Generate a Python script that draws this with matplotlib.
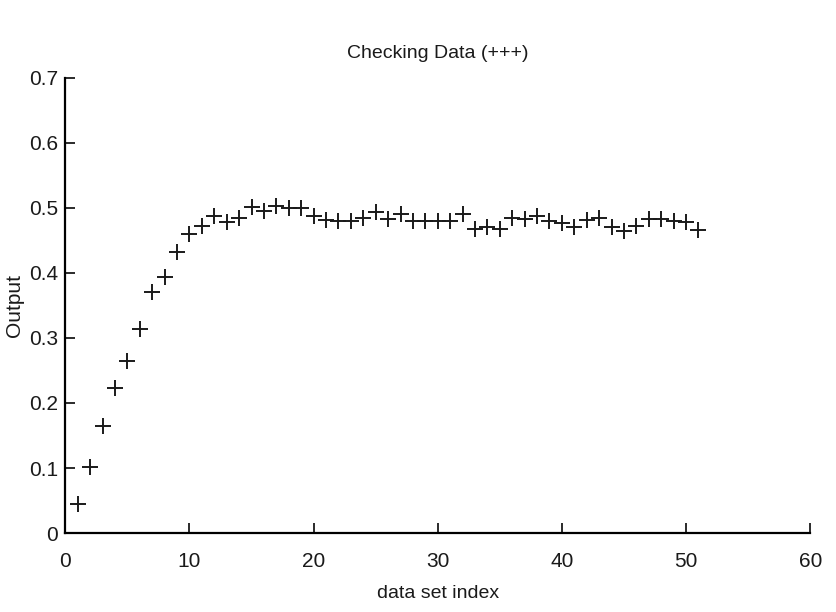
import matplotlib.pyplot as plt

plt.rcParams['font.family'] = ['Liberation Sans Narrow', 'Liberation Sans', 'DejaVu Sans']

# checking data, index 1..51
index = list(range(1, 52))
output = [0.045, 0.102, 0.165, 0.223, 0.265, 0.313, 0.371, 0.394, 0.432, 0.459,
          0.472, 0.487, 0.478, 0.484, 0.502, 0.495, 0.503, 0.500, 0.499, 0.488,
          0.482, 0.480, 0.480, 0.484, 0.494, 0.483, 0.491, 0.480, 0.480, 0.480,
          0.480, 0.491, 0.468, 0.471, 0.467, 0.485, 0.483, 0.488, 0.480, 0.477,
          0.471, 0.482, 0.484, 0.470, 0.465, 0.472, 0.483, 0.483, 0.480, 0.478,
          0.466]
xticks = [0, 10, 20, 30, 40, 50, 60]
yticks = [0, 0.1, 0.2, 0.3, 0.4, 0.5, 0.6, 0.7]

fig = plt.figure(figsize=(8.37, 6.12), dpi=100)
ax = fig.add_axes([0.078, 0.129, 0.89, 0.744])

ax.plot(index, output, linestyle='none', marker='+', markersize=12,
        markeredgewidth=1.4, color='#1a1a1a')

ax.set_xlim(0, 60)
ax.set_ylim(0, 0.7)
ax.set_xticks(xticks)
ax.set_yticks(yticks)
ax.set_yticklabels(['0', '0.1', '0.2', '0.3', '0.4', '0.5', '0.6', '0.7'])
ax.tick_params(direction='in', length=7, width=1.3, labelsize=15, colors='#1a1a1a')
ax.tick_params(axis='x', pad=14)
ax.tick_params(axis='y', pad=5)

ax.spines['top'].set_visible(False)
ax.spines['right'].set_visible(False)
ax.spines['left'].set_linewidth(1.6)
ax.spines['bottom'].set_linewidth(1.6)

ax.set_title('Checking Data (+++)', fontsize=14, pad=14, color='#1a1a1a')
ax.set_xlabel('data set index', fontsize=14, labelpad=10, color='#1a1a1a')
ax.set_ylabel('Output', fontsize=15, labelpad=4, color='#1a1a1a')

plt.savefig('out.png', dpi=100)
